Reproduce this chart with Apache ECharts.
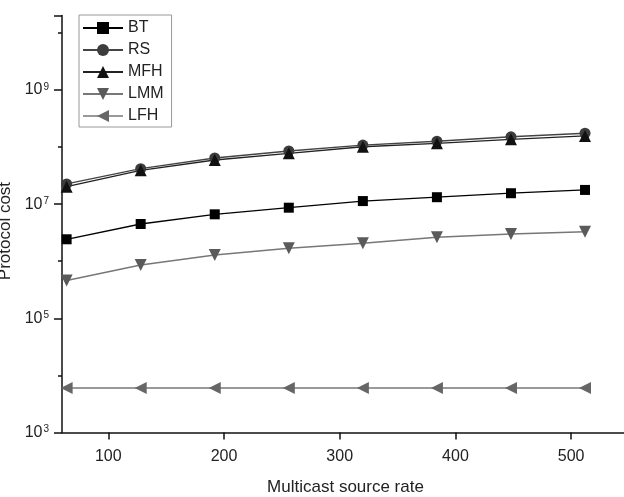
<!DOCTYPE html>
<html>
<head>
<meta charset="utf-8">
<script src="https://cdn.jsdelivr.net/npm/echarts@6.0.0/dist/echarts.min.js"></script>
<style>
  html, body { margin: 0; padding: 0; background: #fff; }
  #chart { width: 624px; height: 497px; }
</style>
</head>
<body>
<div id="chart"></div>
<script>
  // multicast source rate on x, protocol cost (log) on y
  const rates = [64, 128, 192, 256, 320, 384, 448, 512];
  const bt = [2.42e6, 4.48e6, 6.62e6, 8.65e6, 1.13e7, 1.32e7, 1.55e7, 1.77e7];
  const rs = [2.25e7, 4.17e7, 6.42e7, 8.51e7, 1.08e8, 1.26e8, 1.51e8, 1.74e8];
  const mfh = [2.02e7, 3.91e7, 5.92e7, 7.76e7, 1.01e8, 1.16e8, 1.36e8, 1.56e8];
  const lmm = [4.59e5, 8.58e5, 1.28e6, 1.68e6, 2.06e6, 2.62e6, 2.99e6, 3.29e6];
  const lfh = [6000, 6000, 6000, 6000, 6000, 6000, 6000, 6000];
  const xTicks = [100, 200, 300, 400, 500];

  const font = 'Liberation Sans, Arial, sans-serif';
  const chart = echarts.init(document.getElementById('chart'));

  const pairs = (vals) => rates.map((r, i) => [r, vals[i]]);

  const mkSeries = (name, vals, symbol, size, rotate, markColor, lineColor, lineWidth) => ({
    name: name,
    type: 'line',
    data: pairs(vals),
    yAxisIndex: 0,
    symbol: symbol,
    symbolSize: size,
    symbolRotate: rotate,
    showAllSymbol: true,
    itemStyle: { color: markColor, opacity: 1 },
    lineStyle: { color: lineColor, width: lineWidth },
    emphasis: { disabled: true },
    animation: false,
  });

  const supLabel = (v) => {
    const e = Math.log10(v);
    const r = Math.round(e);
    if (Math.abs(e - r) > 0.01) return '';
    return '{b|10}{s|' + r + '}';
  };

  const option = {
    animation: false,
    grid: { left: 62, right: -5, top: 15.6, bottom: 64.5, containLabel: false, outerBoundsMode: 'none' },
    legend: {
      left: 79,
      top: 15,
      orient: 'vertical',
      itemWidth: 40,
      itemHeight: 15,
      itemGap: 6,
      padding: [5, 8, 3, 3],
      borderColor: '#999',
      borderWidth: 1,
      textStyle: { fontFamily: font, fontSize: 16, color: '#222' },
      data: ['BT', 'RS', 'MFH', 'LMM', 'LFH'],
    },
    xAxis: {
      type: 'value',
      min: 60,
      max: 550,
      name: 'Multicast source rate',
      nameLocation: 'middle',
      nameGap: 46,
      nameTextStyle: { fontFamily: font, fontSize: 17, color: '#222' },
      splitLine: { show: false },
      axisLine: { lineStyle: { color: '#111', width: 1.5 } },
      axisTick: { inside: false, length: 7, lineStyle: { color: '#111', width: 1.5 } },
      axisLabel: {
        margin: 16,
        fontFamily: font,
        fontSize: 16,
        color: '#222',
        showMinLabel: false,
        showMaxLabel: false,
        formatter: (v) => (xTicks.indexOf(v) >= 0 ? String(v) : ''),
      },
    },
    yAxis: [
      {
        type: 'log',
        min: 1e3,
        max: 2e10,
        interval: 1,
        position: 'left',
        name: 'Protocol cost',
        nameLocation: 'middle',
        nameGap: 48,
        nameRotate: 90,
        nameTextStyle: { fontFamily: font, fontSize: 17, color: '#222', padding: [0, 14, 0, 0] },
        splitLine: { show: false },
        axisLine: { show: true, lineStyle: { color: '#111', width: 1.5 } },
        axisTick: { inside: false, length: 4, lineStyle: { color: '#111', width: 1.5 } },
        axisLabel: { show: false },
      },
      {
        type: 'log',
        min: 1e3,
        max: 2e10,
        interval: 2,
        position: 'left',
        offset: 0,
        splitLine: { show: false },
        axisLine: { show: false },
        axisTick: { inside: false, length: 8, lineStyle: { color: '#111', width: 1.5 } },
        axisLabel: {
          margin: 13,
          formatter: supLabel,
          rich: {
            b: { fontFamily: font, fontSize: 16, color: '#222' },
            s: { fontFamily: font, fontSize: 10, color: '#222', verticalAlign: 'top', padding: [0, 0, 0, 1] },
          },
        },
      },
    ],
    series: [
      mkSeries('BT', bt, 'rect', 10, 0, '#000', '#000', 1.3),
      mkSeries('RS', rs, 'circle', 11, 0, '#3c3c3c', '#444', 1.3),
      mkSeries('MFH', mfh, 'triangle', 12, 0, '#111', '#222', 1.3),
      mkSeries('LMM', lmm, 'triangle', 12, 180, '#5a5a5a', '#777', 1.5),
      mkSeries('LFH', lfh, 'triangle', 12, 90, '#666', '#999', 2),
    ],
  };

  chart.setOption(option);
</script>
</body>
</html>
